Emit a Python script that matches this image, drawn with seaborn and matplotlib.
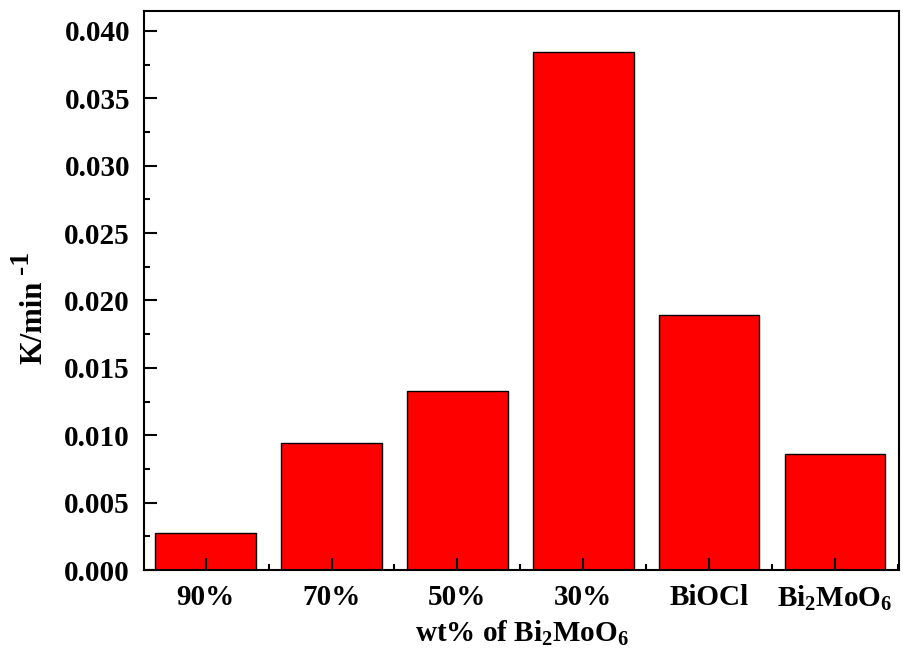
import numpy as np
import pandas as pd
import matplotlib
matplotlib.use('Agg')
import matplotlib.pyplot as plt
from matplotlib.ticker import MultipleLocator
import seaborn as sns

# values
samples = ['90%', '70%', '50%', '30%', 'BiOCl', 'Bi2MoO6']
tick_labels = ['90%', '70%', '50%', '30%', 'BiOCl', r'Bi$_\mathbf{2}$MoO$_\mathbf{6}$']
rate_k = [0.00275, 0.00943, 0.01328, 0.03844, 0.01892, 0.00861]
y_ticks = [0.000, 0.005, 0.010, 0.015, 0.020, 0.025, 0.030, 0.035, 0.040]

sns.set_style('ticks')
plt.rcParams['font.family'] = ['Liberation Serif', 'DejaVu Serif']
plt.rcParams['font.weight'] = 'bold'
plt.rcParams['text.color'] = 'black'
plt.rcParams['axes.labelcolor'] = 'black'
plt.rcParams['xtick.color'] = 'black'
plt.rcParams['ytick.color'] = 'black'
plt.rcParams['mathtext.fontset'] = 'custom'
plt.rcParams['mathtext.rm'] = 'Liberation Serif:bold'
plt.rcParams['mathtext.bf'] = 'Liberation Serif:bold'
plt.rcParams['mathtext.it'] = 'Liberation Serif:bold'

df = pd.DataFrame({'sample': samples, 'k': rate_k})

fig = plt.figure(figsize=(9.04, 6.57), dpi=100)
ax = fig.add_axes([0.1593, 0.1324, 0.8352, 0.8509])

sns.barplot(data=df, x='sample', y='k', color='red', saturation=1,
            edgecolor='black', linewidth=1.0, width=0.8, ax=ax)
ax.set_axisbelow(False)

ax.set_xlim(-0.49, 5.51)
ax.set_ylim(0, 0.04148)
ax.set_yticks(y_ticks)
ax.set_yticklabels([f'{v:.3f}' for v in y_ticks])
ax.yaxis.set_minor_locator(MultipleLocator(0.0025))
ax.set_xticks(range(len(samples)))
ax.set_xticklabels(tick_labels)
ax.xaxis.set_minor_locator(MultipleLocator(1, offset=0.5))

for side in ['left', 'bottom', 'top', 'right']:
    ax.spines[side].set_linewidth(1.5)
    ax.spines[side].set_color('black')

ax.tick_params(axis='both', which='major', direction='in', length=9, width=1.5,
               labelsize=21, pad=10)
ax.tick_params(axis='both', which='minor', direction='in', length=4.5, width=1.5)
ax.tick_params(top=False, right=False, which='both')
for lbl in ax.get_xticklabels() + ax.get_yticklabels():
    lbl.set_fontweight('bold')

ax.set_xlabel(r'wt% of Bi$_\mathbf{2}$MoO$_\mathbf{6}$', fontsize=21,
              fontweight='bold', color='black', labelpad=4)
ax.set_ylabel('')
# y label with a full-size hyphen superscript, as in the original
fig.text(0.0376, 0.51, 'K/min', rotation=90, ha='center', va='center',
         fontsize=22, fontweight='bold')
fig.text(0.0243, 0.60, '-1', rotation=90, ha='center', va='center',
         fontsize=20, fontweight='bold')

fig.savefig('out.png', dpi=100)
